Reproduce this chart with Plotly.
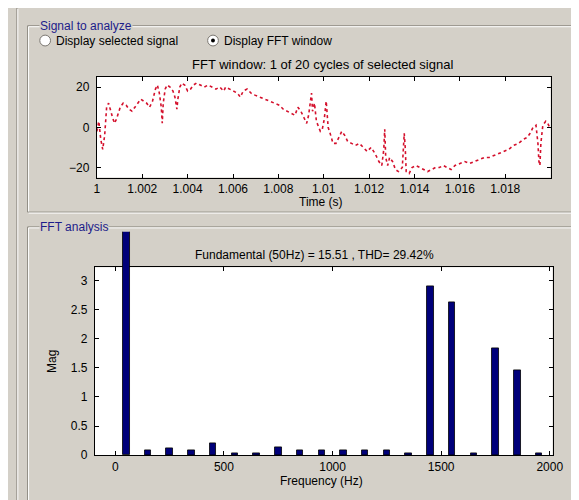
import plotly.graph_objects as go

W, H = 579, 500
BG = "#d4d0c8"
FONT = "Liberation Sans, Arial, sans-serif"

# ---------------- data ----------------
# FFT window signal: time offset (ms from t = 1 s) and value
sig_ms = [0.000, 0.086, 0.172, 0.258, 0.344, 0.430, 0.516, 0.602, 0.688, 0.774,
          0.860, 0.946, 1.032, 1.161, 1.290, 1.419, 1.548, 1.677, 1.806, 1.935,
          2.065, 2.194, 2.323, 2.452, 2.581, 2.667, 2.753, 2.839, 2.882, 2.925,
          3.011, 3.097, 3.226, 3.355, 3.441, 3.527, 3.570, 3.656, 3.742, 3.871,
          4.000, 4.129, 4.258, 4.387, 4.559, 4.731, 4.903, 5.075, 5.247, 5.419,
          5.591, 5.677, 5.849, 6.022, 6.194, 6.323, 6.452, 6.624, 6.796, 6.968,
          7.183, 7.398, 7.613, 7.828, 8.043, 8.215, 8.387, 8.559, 8.731, 8.860,
          8.989, 9.118, 9.247, 9.333, 9.419, 9.462, 9.505, 9.591, 9.677, 9.763,
          9.849, 9.935, 10.022, 10.108, 10.151, 10.194, 10.280, 10.409, 10.538, 10.667,
          10.796, 10.925, 11.054, 11.226, 11.398, 11.570, 11.742, 11.914, 12.086, 12.258,
          12.430, 12.559, 12.645, 12.688, 12.731, 12.817, 12.903, 13.032, 13.161, 13.290,
          13.462, 13.548, 13.591, 13.634, 13.763, 13.892, 14.065, 14.237, 14.409, 14.581,
          14.753, 14.925, 15.097, 15.269, 15.441, 15.613, 15.785, 16.000, 16.215, 16.430,
          16.645, 16.860, 17.075, 17.290, 17.505, 17.720, 17.935, 18.151, 18.366, 18.581,
          18.796, 18.968, 19.097, 19.226, 19.355, 19.441, 19.484, 19.527, 19.570, 19.656,
          19.785, 19.871, 19.957]
sig_val = [-2, 3, -6, -11, -4, 10, 12, 8, 5, 2,
           4, 7, 10, 12, 11, 9, 8, 10, 12, 14,
           13, 12, 10, 13, 19, 21, 17, 10, 2, 12,
           19, 21, 20, 18, 15, 9, 14, 20, 22, 21,
           18, 19, 21, 22, 21, 20, 21, 20, 19, 20,
           18, 20, 19, 18, 17, 15, 18, 19, 17, 16,
           15, 14, 13, 12, 11, 9, 8, 7, 6, 10,
           8, 5, 2, 6, 14, 17, 8, 12, 3, 0,
           -2, -1, 4, 13, 6, 0, -3, -8, -8, -5,
           -2, -4, -7, -8, -9, -8, -10, -12, -10, -13,
           -17, -19, -11, -1, -15, -19, -15, -17, -21, -22,
           -20, -3, -10, -22, -23, -20, -19, -20, -21, -22,
           -21, -20, -20, -19, -20, -21, -19, -18, -17, -18,
           -17, -16, -15, -15, -14, -13, -12, -11, -9, -8,
           -6, -5, -3, 0, 1, -8, -17, -19, -8, 1,
           3, 2, 0]
time_ticks = [1.0, 1.002, 1.004, 1.006, 1.008, 1.01, 1.012, 1.014, 1.016, 1.018]
time_tick_labels = ["1", "1.002", "1.004", "1.006", "1.008", "1.01", "1.012",
                    "1.014", "1.016", "1.018"]
sig_ticks = [-20, 0, 20]

# FFT harmonics
harm_freq = [50, 150, 250, 350, 450, 550, 650, 750, 850, 950,
             1050, 1150, 1250, 1350, 1450, 1550, 1650, 1750, 1850, 1950]
harm_mag = [15.51, 0.08, 0.11, 0.08, 0.21, 0.04, 0.04, 0.14, 0.08, 0.08,
            0.08, 0.08, 0.08, 0.04, 2.90, 2.62, 0.04, 1.84, 1.46, 0.04]
freq_ticks = [0, 500, 1000, 1500, 2000]
mag_ticks = [0, 0.5, 1, 1.5, 2, 2.5, 3]
mag_tick_labels = ["0", "0.5", "1", "1.5", "2", "2.5", "3"]
thd = 29.42

# ---------------- helpers (pixel -> paper) ----------------
def X(px):
    return px / W

def Y(py):
    return 1 - py / H

# plot boxes in pixels
P1 = dict(l=88, r=553, t=70, b=172)
P2 = dict(l=86, r=555, t=263, b=453.5)
FUND_TOP = 227

y2_top = 3.23
y3_top = y2_top * (P2["b"] - FUND_TOP) / (P2["b"] - P2["t"])

fig = go.Figure()

fig.add_trace(go.Scatter(
    x=[1.0 + m / 1000.0 for m in sig_ms], y=sig_val, mode="lines",
    line=dict(color="#d4102c", width=1.6, dash="dot"),
    xaxis="x", yaxis="y", showlegend=False, hoverinfo="skip"))

fig.add_trace(go.Bar(
    x=harm_freq[1:], y=harm_mag[1:], width=30,
    marker=dict(color="#00007a", line=dict(color="#000000", width=0.8)),
    xaxis="x2", yaxis="y2", showlegend=False))

fig.add_trace(go.Bar(
    x=harm_freq[:1], y=harm_mag[:1], width=30,
    marker=dict(color="#00007a", line=dict(color="#000000", width=0.8)),
    xaxis="x3", yaxis="y3", showlegend=False))

tickfont = dict(family=FONT, size=12, color="#000000")
axis_common = dict(showline=True, linecolor="#000000", linewidth=1, mirror="ticks",
                   ticks="inside", ticklen=4, tickcolor="#000000", showgrid=False,
                   zeroline=False, tickfont=tickfont)

x2_range = [-94, 2013]

fig.update_layout(
    width=W, height=H, autosize=False,
    margin=dict(l=0, r=0, t=0, b=0),
    paper_bgcolor=BG, plot_bgcolor="rgba(0,0,0,0)",
    bargap=0,
    xaxis=dict(domain=[X(P1["l"]), X(P1["r"])], range=[1.0, 1.02],
               tickvals=time_ticks, ticktext=time_tick_labels, anchor="y",
               **axis_common),
    yaxis=dict(domain=[Y(P1["b"]), Y(P1["t"])], range=[-25, 25],
               tickvals=sig_ticks, anchor="x", ticklabelstandoff=4, **axis_common),
    xaxis2=dict(domain=[X(P2["l"]), X(P2["r"])], range=x2_range,
                tickvals=freq_ticks, anchor="y2", **axis_common),
    yaxis2=dict(domain=[Y(P2["b"]), Y(P2["t"])], range=[0, y2_top],
                tickvals=mag_ticks, ticktext=mag_tick_labels, anchor="x2",
                ticklabelstandoff=4, **axis_common),
    xaxis3=dict(domain=[X(P2["l"]), X(P2["r"])], range=x2_range, visible=False,
                anchor="y3", matches="x2"),
    yaxis3=dict(domain=[Y(P2["b"]), Y(FUND_TOP)], range=[0, y3_top], visible=False,
                anchor="x3"),
)

shapes = []
# white plot areas
shapes.append(dict(type="rect", xref="x domain", yref="y domain", x0=0, x1=1, y0=0, y1=1,
                   fillcolor="#ffffff", line=dict(width=0), layer="below"))
shapes.append(dict(type="rect", xref="x2 domain", yref="y2 domain", x0=0, x1=1, y0=0, y1=1,
                   fillcolor="#ffffff", line=dict(width=0), layer="below"))

DARK = "#8e8a82"
LIGHT = "#ffffff"

def etched_h(x0, x1, y):
    shapes.append(dict(type="line", xref="paper", yref="paper", x0=X(x0), x1=X(x1),
                       y0=Y(y), y1=Y(y), line=dict(color=DARK, width=1)))
    shapes.append(dict(type="line", xref="paper", yref="paper", x0=X(x0 + 1), x1=X(x1),
                       y0=Y(y + 1), y1=Y(y + 1), line=dict(color=LIGHT, width=1)))

def etched_v(x, y0, y1):
    shapes.append(dict(type="line", xref="paper", yref="paper", x0=X(x), x1=X(x),
                       y0=Y(y0), y1=Y(y1), line=dict(color=DARK, width=1)))
    shapes.append(dict(type="line", xref="paper", yref="paper", x0=X(x + 1), x1=X(x + 1),
                       y0=Y(y0 + 1), y1=Y(y1), line=dict(color=LIGHT, width=1)))

# outer border
etched_v(6, 0, 500)
# frame 1
etched_h(17, 590, 18)
etched_v(17, 18, 207)
etched_h(17, 590, 207)
# frame 2
etched_h(17, 590, 222)
etched_v(17, 222, 510)

# radio buttons
for cx, sel in [(35, False), (207, True)]:
    r = 5.5
    shapes.append(dict(type="circle", xref="paper", yref="paper",
                       x0=X(cx - r), x1=X(cx + r), y0=Y(33 + r), y1=Y(33 - r),
                       fillcolor="#ffffff", line=dict(color="#7a7670", width=1)))
    if sel:
        d = 2
        shapes.append(dict(type="circle", xref="paper", yref="paper",
                           x0=X(cx - d), x1=X(cx + d), y0=Y(33 + d), y1=Y(33 - d),
                           fillcolor="#000000", line=dict(color="#000000", width=0)))

fig.update_layout(shapes=shapes)

def ann(text, x, y, size=12, xanchor="center", color="#000000", bg=None, angle=0):
    a = dict(text=text, x=X(x), y=Y(y), xref="paper", yref="paper", showarrow=False,
             xanchor=xanchor, yanchor="middle", textangle=angle,
             font=dict(family=FONT, size=size, color=color))
    if bg:
        a["bgcolor"] = bg
        a["borderpad"] = 0
    return a

fund_text = "Fundamental (%dHz) = %.2f , THD= %.2f%%" % (harm_freq[0], harm_mag[0], thd)

annotations = [
    ann("Signal to analyze", 29, 18, size=12, xanchor="left", color="#1c1c8a", bg=BG),
    ann("FFT analysis", 29, 222, size=12, xanchor="left", color="#1c1c8a", bg=BG),
    ann("Display selected signal", 44, 33, size=12, xanchor="left"),
    ann("Display FFT window", 216, 33, size=12, xanchor="left"),
    ann("FFT window: 1 of 20 cycles of selected signal", 319, 57, size=13),
    ann("Time (s)", 318, 197, size=12),
    ann(fund_text, 311, 250, size=12),
    ann("Frequency (Hz)", 318, 480, size=12),
    ann("Mag", 42, 358, size=12, angle=-90),
]
fig.update_layout(annotations=annotations)

fig.write_html("out.html")
